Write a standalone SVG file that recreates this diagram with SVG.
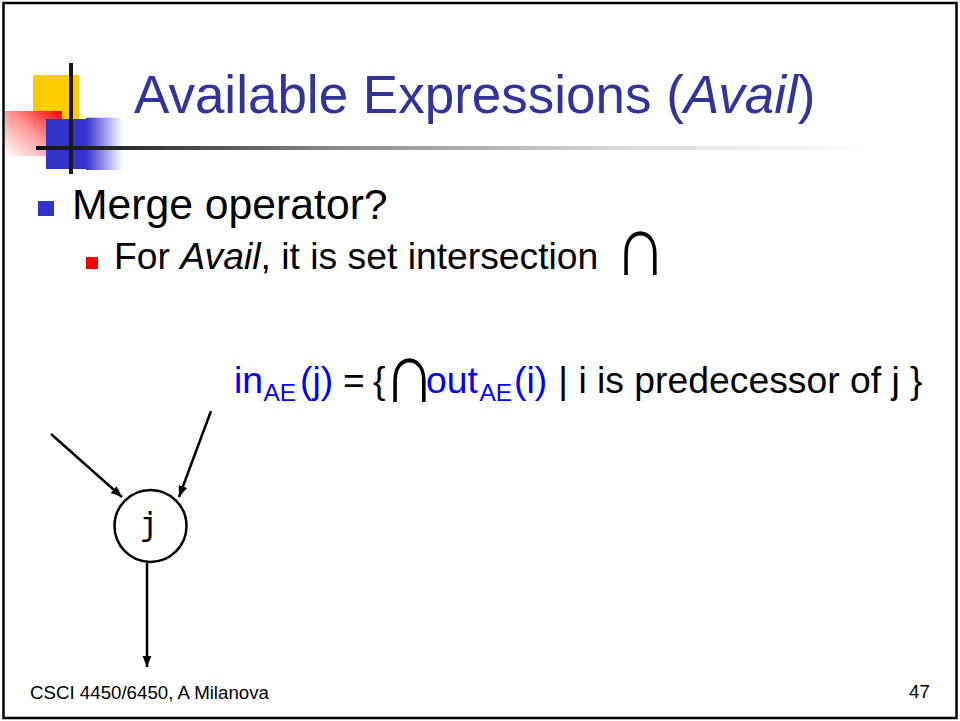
<svg xmlns="http://www.w3.org/2000/svg" width="960" height="721" viewBox="0 0 960 721">
<style>
text{font-family:"Liberation Sans",Arial,sans-serif}
.title{font-size:53px;fill:#333399}
.b1{font-size:42.7px;fill:#000}
.b2{font-size:37.3px;fill:#000}
.blue{fill:#0000ff}
.sub{font-size:24.5px}
.cap{font-family:"Liberation Sans",Arial,sans-serif;font-size:60px;fill:#000}
.foot{font-size:18.7px;fill:#000}
.edge{stroke:#000;stroke-width:2.5;fill:none}
.node{fill:#fff;stroke:#000;stroke-width:2.5}
.lbl{font-family:"DejaVu Sans Mono",monospace;font-size:32px;fill:#000}
</style>
<defs>
<linearGradient id="redg" x1="1" y1="0" x2="0" y2="1">
<stop offset="0" stop-color="#ff0000"/>
<stop offset="0.5" stop-color="#ff9a9a"/>
<stop offset="1" stop-color="#ffffff"/>
</linearGradient>
<linearGradient id="blueg" x1="0" y1="0" x2="1" y2="0">
<stop offset="0" stop-color="#3333cc"/>
<stop offset="1" stop-color="#ffffff"/>
</linearGradient>
<linearGradient id="yelg" x1="0" y1="0" x2="1" y2="0">
<stop offset="0" stop-color="#ffcc00"/>
<stop offset="1" stop-color="#ffffff"/>
</linearGradient>
<linearGradient id="lineg" gradientUnits="userSpaceOnUse" x1="36" y1="0" x2="870" y2="0">
<stop offset="0" stop-color="#151515"/>
<stop offset="0.08" stop-color="#222222"/>
<stop offset="0.35" stop-color="#888888"/>
<stop offset="0.7" stop-color="#d8d8d8"/>
<stop offset="1" stop-color="#ffffff"/>
</linearGradient>
<marker id="ah" viewBox="0 0 10 10" refX="10" refY="5" markerWidth="4.5" markerHeight="4.5" orient="auto" markerUnits="strokeWidth">
<path d="M0,1 L10,5 L0,9 z" fill="#000"/>
</marker>
</defs>
<rect x="0" y="0" width="960" height="721" fill="#fff"/>
<rect x="3.5" y="3" width="953" height="715" fill="none" stroke="#000" stroke-width="2.5"/>
<g id="logo">
<rect x="33" y="75" width="46" height="44" fill="#ffcc00"/>
<rect x="5" y="111" width="57" height="45" fill="url(#redg)"/>
<rect x="87" y="117" width="32" height="2" fill="url(#yelg)"/>
<rect x="46" y="119" width="40" height="50" fill="#3333cc"/>
<rect x="86" y="118" width="37" height="52" fill="url(#blueg)"/>
<rect x="36" y="146" width="834" height="4" fill="url(#lineg)"/>
<rect x="69" y="63" width="4" height="111" fill="#1a1a1a"/>
</g>
<g id="title">
<text class="title" x="134" y="113">Available Expressions (<tspan font-style="italic">Avail</tspan>)</text>
</g>
<g id="bullets">
<rect x="38" y="201" width="16" height="15" fill="#3333cc"/>
<text class="b1" x="72" y="219">Merge operator?</text>
<rect x="86" y="257" width="12" height="12" fill="#ff0000"/>
<text class="b2" x="114" y="269">For <tspan font-style="italic">Avail</tspan>, it is set intersection</text>
<text class="cap" transform="translate(614.5,275) scale(1.2,1.45)">∩</text>
</g>
<g id="formula">
<text class="b2" y="393"><tspan class="blue" x="234">in</tspan><tspan class="blue sub" x="263.5" dy="8">AE</tspan><tspan class="blue" x="300" dy="-8">(j)</tspan><tspan x="343">=</tspan><tspan x="373">{</tspan></text>
<text class="cap" transform="translate(383.5,402) scale(1.2,1.45)">∩</text>
<text class="b2" y="393"><tspan class="blue" x="426">out</tspan><tspan class="blue sub" x="479.5" dy="8">AE</tspan><tspan class="blue" x="514" dy="-8">(i)</tspan><tspan x="548"> | i is predecessor of j }</tspan></text>
</g>
<g id="connectors">
<line class="edge" x1="51" y1="434" x2="122" y2="497" marker-end="url(#ah)"/>
<line class="edge" x1="211" y1="411" x2="179" y2="497" marker-end="url(#ah)"/>
<line class="edge" x1="147" y1="563" x2="147" y2="667" marker-end="url(#ah)"/>
</g>
<g id="node-j">
<circle class="node" cx="150.5" cy="526" r="36"/>
<text class="lbl" x="149" y="535" text-anchor="middle">j</text>
</g>
<g id="footer">
<text class="foot" x="30" y="699">CSCI 4450/6450, A Milanova</text>
<text class="foot" x="909" y="698">47</text>
</g>
</svg>
